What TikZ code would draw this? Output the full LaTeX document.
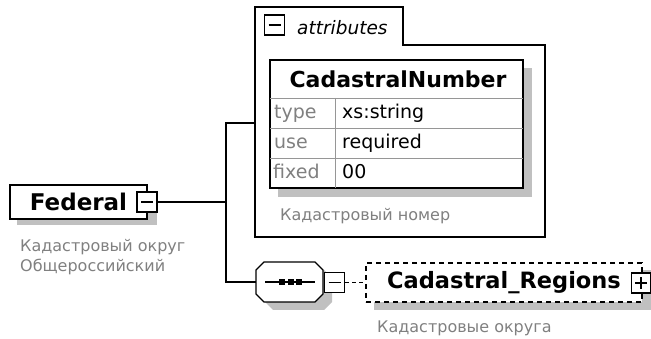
\documentclass[tikz,border=0pt]{standalone}
\usepackage{fontspec}
\setmainfont{DejaVu Sans}
\definecolor{labelgray}{RGB}{128,128,128}
\definecolor{shadowgray}{RGB}{192,192,192}
\definecolor{rowgray}{RGB}{150,150,150}
\begin{document}
\begin{tikzpicture}[x=1pt,y=-1pt,
  ln/.style={line width=1.2pt},
  bx/.style={draw,line width=1.2pt,fill=white,inner sep=0pt},
  shd/.style={fill=shadowgray,draw=none},
  lbl/.style={text=labelgray,font=\fontsize{16}{20}\selectfont,inner sep=0pt,anchor=base west},
  cell/.style={font=\fontsize{19}{22}\selectfont,inner sep=0pt,anchor=base west},
  namecell/.style={cell,text=labelgray},
  bigname/.style={font=\bfseries\fontsize{22.5}{26}\selectfont},
  pmbox/.style={draw,line width=1.2pt,fill=white,inner sep=0pt,minimum width=20pt,minimum height=20pt,
    path picture={\draw[line width=1.3pt] ([xshift=-6pt]path picture bounding box.center) -- ([xshift=6pt]path picture bounding box.center);}}
]
\useasboundingbox (0,0) rectangle (651,339);

% ---------- Federal ----------
\fill[shd] (17,191) rectangle (157,225);
\node[bx,minimum width=137pt,minimum height=34pt,font=\bfseries\fontsize{23}{26}\selectfont] (fed) at (78.5,202) {Federal};
\node[pmbox] (fedm) at (147,202) {};
\node[lbl] (fedl1) at (20,251.5) {Кадастровый округ};
\node[lbl] (fedl2) at (20,271.5) {Общероссийский};

% ---------- attributes ----------
\draw[line width=1.2pt,fill=white] (255,7) -- (403,7) -- (403,45) -- (545,45) -- (545,237) -- (255,237) -- cycle;
\coordinate (attW) at (255,123);
\node[pmbox] (attm) at (274.5,25) {};
\node[font=\itshape\fontsize{18.5}{22}\selectfont,anchor=base west,inner sep=0pt] (attt) at (297,35) {attributes};

\fill[shd] (278,68) rectangle (532,197);
\node[bx,minimum width=253pt,minimum height=128pt] (tbl) at (396.5,124) {};
\draw[rowgray,line width=0.8pt] (270,98) -- (523,98) (270,128) -- (523,128) (270,158) -- (523,158) (335,98) -- (335,188);
\draw[line width=1.2pt] (tbl.north west) rectangle (tbl.south east);
\node[font=\bfseries\fontsize{22}{26}\selectfont,anchor=base,inner sep=0pt] (cn) at (398,88) {CadastralNumber};
\node[namecell] (n1) at (274,119) {type};
\node[cell] (v1) at (342,119) {xs:string};
\node[namecell] (n2) at (274,149) {use};
\node[cell] (v2) at (342,149) {required};
\node[namecell] (n3) at (273,179) {fixed};
\node[cell] (v3) at (342,179) {00};
\node[lbl] (attl) at (280,221) {Кадастровый номер};

% ---------- sequence ----------
\fill[shadowgray] (265,278) -- (273,270) -- (324,270) -- (332,278) -- (332,302) -- (324,310) -- (273,310) -- (265,302) -- cycle;
\draw[line width=1.2pt,fill=white] (256,270) -- (264,262) -- (315,262) -- (323,270) -- (323,294) -- (315,302) -- (264,302) -- (256,294) -- cycle;
\node[inner sep=0pt,minimum width=67pt,minimum height=40pt] (seq) at (289.5,282) {};
\draw[line width=1.2pt] (265,282) -- (315,282);
\foreach \dx in {282,290.5,299} \fill (\dx-3,279) rectangle (\dx+3,285);
\node[pmbox] (seqm) at (334.5,282.5) {};

% ---------- Cadastral_Regions ----------
\fill[shd] (374,270) rectangle (651,310);
\node[draw,line width=1.2pt,dash pattern=on 5pt off 4pt,fill=white,inner sep=0pt,minimum width=276pt,minimum height=39pt,bigname] (reg) at (504,282.5) {Cadastral\_Regions};
\node[pmbox,minimum width=19pt,minimum height=20pt,
  path picture={\draw[line width=1.3pt] ([xshift=-6pt]path picture bounding box.center) -- ([xshift=6pt]path picture bounding box.center);
                \draw[line width=1.3pt] ([yshift=-6pt]path picture bounding box.center) -- ([yshift=6pt]path picture bounding box.center);}] (regp) at (641,283) {};
\node[lbl] (regl) at (377,333) {Кадастровые округа};

% ---------- connectors ----------
\coordinate (jx) at (226,202);
\draw[ln] (fedm.east) -- (jx);
\draw[ln] (attW) -- (attW -| jx) -- (seq.west -| jx) -- (seq.west);
\draw[ln,dash pattern=on 4pt off 3pt] (seqm.east) -- (reg.west);
\end{tikzpicture}
\end{document}
